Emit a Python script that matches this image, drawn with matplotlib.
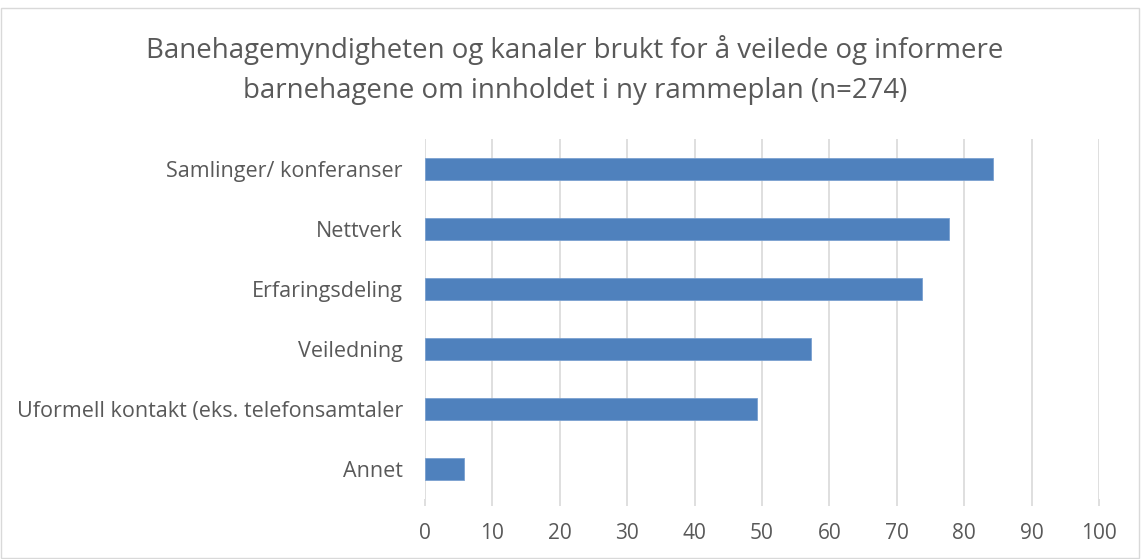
import matplotlib.pyplot as plt
from matplotlib.patches import Rectangle

# data (percent of n=274), top to bottom as in the chart
categories = ["Samlinger/ konferanser", "Nettverk", "Erfaringsdeling",
              "Veiledning", "Uformell kontakt (eks. telefonsamtaler", "Annet"]
values = [84.3, 77.7, 73.7, 57.3, 49.3, 5.8]
xticks = [0, 10, 20, 30, 40, 50, 60, 70, 80, 90, 100]

title = ("Banehagemyndigheten og kanaler brukt for å veilede og informere\n"
         "barnehagene om innholdet i ny rammeplan (n=274)")

plt.rcParams['font.family'] = ['Open Sans', 'DejaVu Sans']

fig = plt.figure(figsize=(11.41, 5.59), dpi=100)
W, H = 1141, 559
ax = fig.add_axes([425 / W, 1 - 499 / H, (1099 - 425) / W, (499 - 139) / H])

# outer chart border
fig.patches.append(Rectangle((1 / W, 1 / H), 1 - 3 / W, 1 - 9 / H,
                             transform=fig.transFigure, fill=False,
                             edgecolor='#D9D9D9', linewidth=1))

pos = list(range(len(categories)))[::-1]
ax.barh(pos, values, height=0.37, color='#4F81BD', edgecolor='#7AA0D0',
        linewidth=0.6, zorder=3)

ax.set_xlim(0, 100)
ax.set_ylim(-0.5, len(categories) - 0.5)
ax.set_xticks(xticks)
ax.set_yticks(pos)
ax.set_yticklabels(categories)

ax.grid(axis='x', color='#D9D9D9', linewidth=1.2, zorder=0)
for s in ax.spines.values():
    s.set_visible(False)
ax.tick_params(axis='y', length=0, pad=16, labelsize=15.5, labelcolor='#595959')
ax.tick_params(axis='x', length=5, width=1.2, color='#D9D9D9', pad=12,
               labelsize=15, labelcolor='#595959')

fig.text(575 / W, 1 - 70 / H, title, ha='center', va='center',
         fontsize=19.9, color='#595959', linespacing=1.55)

fig.savefig('out.png', dpi=100)
